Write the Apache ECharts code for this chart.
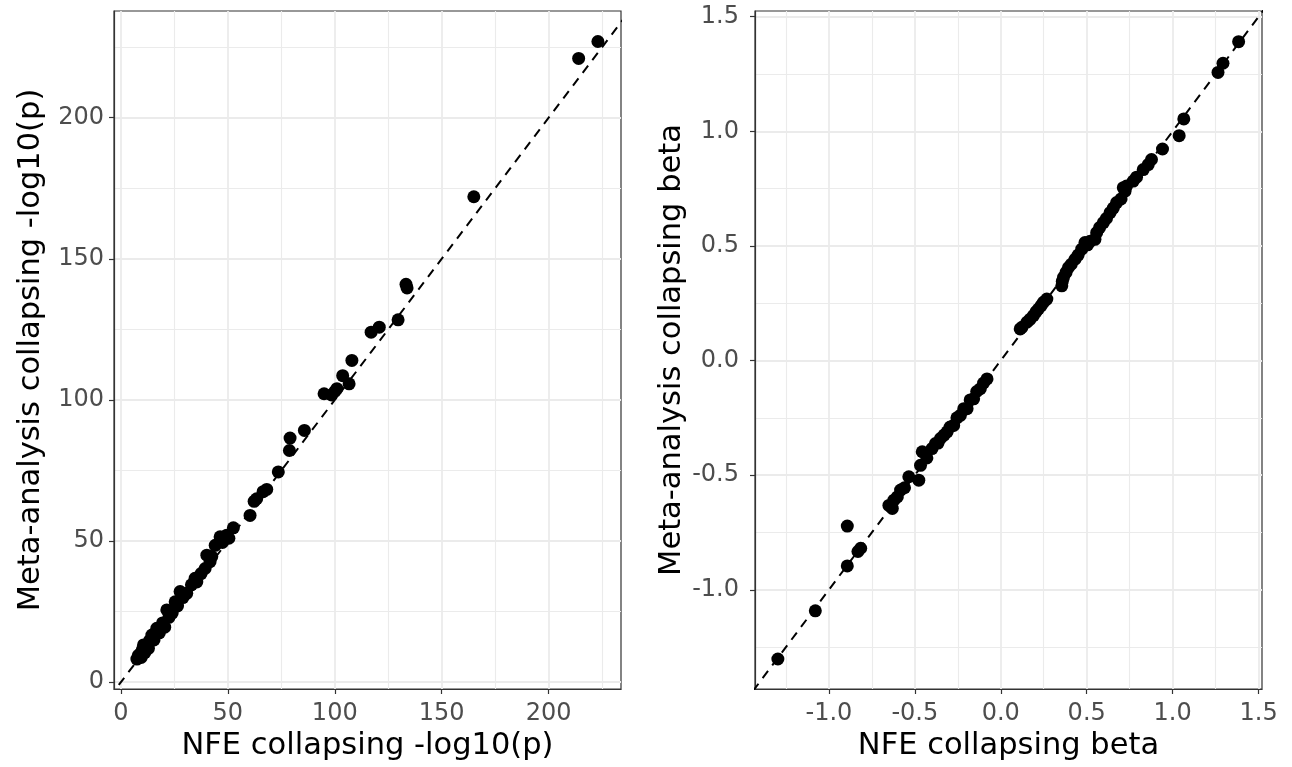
<!DOCTYPE html>
<html>
<head>
<meta charset="utf-8">
<script src="https://cdn.jsdelivr.net/npm/echarts@6/dist/echarts.min.js"></script>
<style>
html,body{margin:0;padding:0;background:#fff;}
#chart{width:1292px;height:767px;}
</style>
</head>
<body>
<div id="chart"></div>
<script>
// Left panel: -log10(p)
const nfeLog10p = [7.5,8.2,9.0,9.5,10.0,10.6,11.2,12.0,12.9,13.5,14.5,15.5,16.8,18.0,19.5,20.5,21.5,22.5,24.0,25.4,26.5,27.7,29.0,30.8,33.0,34.7,35.5,37.5,39.4,40.2,41.7,42.5,44.1,46.4,47.5,49.5,50.5,52.6,60.4,62.3,63.5,66.5,68.2,73.6,78.8,79.1,85.8,95.0,98.5,100.0,101.0,103.7,106.7,108.0,117.0,120.8,129.6,133.3,133.8,165.0,214.0,223.0];
const metaLog10p = [8.2,9.5,10.0,8.8,11.5,13.2,10.5,12.5,12.0,14.8,16.7,15.0,19.1,17.5,21.0,19.5,25.6,23.0,24.5,28.5,27.0,32.1,30.0,31.5,34.5,36.8,35.5,38.5,40.3,45.0,42.7,44.5,48.5,51.5,49.5,52.1,51.0,54.7,59.1,64.1,65.0,67.5,68.3,74.5,82.1,86.5,89.2,102.2,101.8,103.0,104.0,108.6,105.7,114.0,124.0,125.8,128.4,141.0,139.7,172.0,221.0,227.0];
// Right panel: beta
const nfeBeta = [-1.297,-1.079,-0.893,-0.893,-0.831,-0.815,-0.651,-0.631,-0.622,-0.602,-0.583,-0.560,-0.535,-0.477,-0.467,-0.457,-0.430,-0.400,-0.380,-0.365,-0.351,-0.330,-0.312,-0.295,-0.274,-0.255,-0.235,-0.215,-0.196,-0.178,-0.158,-0.140,-0.119,-0.100,-0.080,0.113,0.123,0.152,0.170,0.190,0.205,0.219,0.235,0.248,0.268,0.355,0.358,0.365,0.380,0.394,0.410,0.432,0.450,0.471,0.490,0.505,0.520,0.548,0.558,0.575,0.597,0.615,0.636,0.655,0.674,0.700,0.713,0.723,0.732,0.771,0.790,0.829,0.858,0.877,0.941,1.038,1.065,1.264,1.293,1.384];
const metaBeta = [-1.302,-1.092,-0.722,-0.896,-0.833,-0.819,-0.632,-0.645,-0.609,-0.595,-0.565,-0.555,-0.507,-0.522,-0.457,-0.398,-0.425,-0.384,-0.362,-0.360,-0.340,-0.325,-0.311,-0.290,-0.283,-0.250,-0.239,-0.210,-0.210,-0.172,-0.167,-0.135,-0.123,-0.098,-0.080,0.138,0.145,0.167,0.180,0.196,0.212,0.225,0.240,0.254,0.268,0.326,0.345,0.363,0.385,0.406,0.420,0.442,0.460,0.486,0.515,0.505,0.520,0.529,0.558,0.580,0.602,0.620,0.645,0.665,0.689,0.705,0.754,0.739,0.761,0.783,0.800,0.833,0.855,0.877,0.923,0.981,1.054,1.257,1.297,1.391];

// Ticks
const logTicks = [0,50,100,150,200];
const logMinor = [25,75,125,175,225];
const betaTicks = [-1.0,-0.5,0.0,0.5,1.0,1.5];
const betaMinor = [-1.25,-0.75,-0.25,0.25,0.75,1.25];

// Axis limits (ggplot expansion)
const logXRange = [-3.2, 233.8];
const logYRange = [-2.4, 237.8];
const betaXRange = [-1.43, 1.52];
const betaYRange = [-1.433, 1.525];

const FONT = 'DejaVu Sans';
const gridColor = '#EBEBEB';

function majorAxis(type, gridIndex, range, ticks, name, fmt, labelMargin) {
  const isX = type === 'x';
  return {
    type: 'value', gridIndex, min: range[0], max: range[1],
    position: isX ? 'bottom' : 'left',
    name, nameLocation: 'middle',
    nameGap: isX ? 42 : 67,
    nameTextStyle: {fontFamily: FONT, fontSize: 30.5, color: '#000'},
    axisLine: {show: true, onZero: false, lineStyle: {color: '#333333', width: 1.2}},
    axisTick: {show: true, length: 5, customValues: ticks, lineStyle: {color: '#333333', width: 1.2}},
    axisLabel: {show: true, customValues: ticks, fontFamily: FONT, fontSize: 24, color: '#4D4D4D',
      margin: labelMargin, formatter: fmt},
    splitLine: {show: true, lineStyle: {color: gridColor, width: 1.8}}
  };
}
function minorAxis(type, gridIndex, range, ticks) {
  return {
    type: 'value', gridIndex, min: range[0], max: range[1],
    position: type === 'x' ? 'top' : 'right',
    axisLine: {show: false}, axisLabel: {show: false},
    axisTick: {show: false, customValues: ticks},
    splitLine: {show: true, lineStyle: {color: gridColor, width: 1.1}}
  };
}

const fmtInt = v => String(Math.round(v));
const fmtBeta = v => (Math.abs(v) < 1e-9 ? 0 : v).toFixed(1);

const pairs = (xs, ys) => xs.map((x, i) => [x, ys[i]]);

const chart = echarts.init(document.getElementById('chart'), null, {renderer: 'canvas'});
chart.setOption({
  backgroundColor: '#fff',
  animation: false,
  grid: [
    {left: 114, top: 11, width: 507, height: 680, show: true, borderColor: '#333333', borderWidth: 1.2, backgroundColor: 'transparent'},
    {left: 755, top: 11, width: 507, height: 681, show: true, borderColor: '#333333', borderWidth: 1.2, backgroundColor: 'transparent'}
  ],
  xAxis: [
    majorAxis('x', 0, logXRange, logTicks, 'NFE collapsing -log10(p)', fmtInt, 13),
    minorAxis('x', 0, logXRange, logMinor),
    majorAxis('x', 1, betaXRange, betaTicks, 'NFE collapsing beta', fmtBeta, 13),
    minorAxis('x', 1, betaXRange, betaMinor)
  ],
  yAxis: [
    majorAxis('y', 0, logYRange, logTicks, 'Meta-analysis collapsing -log10(p)', fmtInt, 10),
    minorAxis('y', 0, logYRange, logMinor),
    majorAxis('y', 1, betaYRange, betaTicks, 'Meta-analysis collapsing beta', fmtBeta, 16),
    minorAxis('y', 1, betaYRange, betaMinor)
  ],
  series: [
    {type: 'line', xAxisIndex: 0, yAxisIndex: 0, data: [[-10,-10],[250,250]], showSymbol: false, clip: true,
      lineStyle: {color: '#000', width: 2, type: [9,7]}, silent: true, z: 3},
    {type: 'scatter', xAxisIndex: 0, yAxisIndex: 0, data: pairs(nfeLog10p, metaLog10p), symbol: 'circle', symbolSize: 13,
      itemStyle: {color: '#000', opacity: 1}, z: 4},
    {type: 'line', xAxisIndex: 2, yAxisIndex: 2, data: [[-2,-2],[2,2]], showSymbol: false, clip: true,
      lineStyle: {color: '#000', width: 2, type: [9,7]}, silent: true, z: 3},
    {type: 'scatter', xAxisIndex: 2, yAxisIndex: 2, data: pairs(nfeBeta, metaBeta), symbol: 'circle', symbolSize: 13,
      itemStyle: {color: '#000', opacity: 1}, z: 4}
  ]
});
</script>
</body>
</html>
